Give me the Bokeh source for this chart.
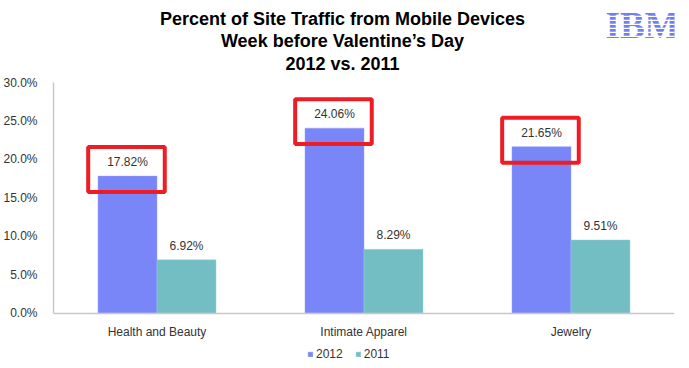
from bokeh.plotting import figure
from bokeh.models import (ColumnDataSource, FactorRange, Range1d, LabelSet, Label,
                          PrintfTickFormatter, Legend, LegendItem, BoxAnnotation)
from bokeh.transform import dodge
from bokeh.core.properties import value
from bokeh.embed import file_html
from bokeh.resources import INLINE

categories = ["Health and Beauty", "Intimate Apparel", "Jewelry"]
series_names = ["2012", "2011"]
values_2012 = [17.82, 24.06, 21.65]
values_2011 = [6.92, 8.29, 9.51]
y_ticks = [0, 5, 10, 15, 20, 25, 30]
title_lines = ["Percent of Site Traffic from Mobile Devices",
               "Week before Valentine\u2019s Day",
               "2012 vs. 2011"]

C2012 = "#7886F7"
C2011 = "#72BEC3"
RED = "#EE1C25"
FONT = "Liberation Sans"

src = ColumnDataSource(dict(
    cat=categories,
    v2012=values_2012,
    v2011=values_2011,
    l2012=["%.2f%%" % v for v in values_2012],
    l2011=["%.2f%%" % v for v in values_2011],
    box_y=[v + 0.85 for v in values_2012],
))

W, H = 678, 360
p = figure(x_range=FactorRange(*categories, range_padding=0), y_range=Range1d(-6.18, 40.68),
           width=W, height=H, output_backend="svg", toolbar_location=None,
           min_border_left=43, min_border_right=4, min_border_top=0, min_border_bottom=0)
p.outline_line_color = None
p.grid.grid_line_color = None
p.background_fill_color = "white"

bw = 0.285
r1 = p.vbar(x=dodge("cat", -bw / 2, range=p.x_range), top="v2012", width=bw, source=src,
            fill_color=C2012, line_color="#9aa3f8", line_width=0.5)
r2 = p.vbar(x=dodge("cat", bw / 2, range=p.x_range), top="v2011", width=bw, source=src,
            fill_color=C2011, line_color="#9fd3d6", line_width=0.5)

for col, off in (("l2012", -bw / 2), ("l2011", bw / 2)):
    ys = "v2012" if col == "l2012" else "v2011"
    p.add_layout(LabelSet(x=dodge("cat", off, range=p.x_range), y=ys, text=col, source=src,
                          text_align="center", text_baseline="bottom", y_offset=7,
                          text_font=value(FONT), text_font_size="12px", text_color="#333333"))

p.rect(x=dodge("cat", -bw / 2 - 0.005, range=p.x_range), y="box_y", width=0.37, height=5.85,
       source=src, fill_alpha=0, line_color=RED, line_width=4)

p.xaxis.fixed_location = 0
p.yaxis.ticker = y_ticks
p.yaxis.bounds = (0, 30)
p.yaxis.formatter = PrintfTickFormatter(format="%.1f%%")
for ax in (p.xaxis, p.yaxis):
    ax.axis_line_color = "#c8c8c8"
    ax.axis_line_width = 1.5
    ax.major_tick_line_color = None
    ax.minor_tick_line_color = None
    ax.major_label_text_font = FONT
    ax.major_label_text_font_size = "12px"
    ax.major_label_text_color = "#333333"
p.yaxis.major_label_standoff = 10
p.xaxis.major_label_standoff = 6

legend = Legend(items=[LegendItem(label=series_names[0], renderers=[r1]),
                       LegendItem(label=series_names[1], renderers=[r2])],
                orientation="horizontal", location=(254, -1),
                label_text_font=FONT, label_text_font_size="12px", label_text_color="#333333",
                glyph_width=6, glyph_height=6, label_standoff=3, spacing=12,
                border_line_color=None, background_fill_alpha=0, padding=0, margin=0)
p.add_layout(legend, "center")

# title lines (screen units, relative to the frame)
for i, t in enumerate(title_lines):
    p.add_layout(Label(x=289, y=342 - 22.5 * i, x_units="screen", y_units="screen", text=t,
                       text_align="center", text_baseline="middle",
                       text_font="Liberation Sans", text_font_style="bold",
                       text_font_size="18px", text_color="#000000"))

p.add_layout(Label(x=589, y=335, x_units="screen", y_units="screen", text="IBM",
                   text_align="center", text_baseline="middle", text_font="Liberation Serif",
                   text_font_style="bold", text_font_size="37px", text_color="#6F7FF0"))
for k in range(6):
    yb = 323.5 + 4 * k
    p.add_layout(BoxAnnotation(left=548, right=632, bottom=yb, top=yb + 1.3,
                               left_units="screen", right_units="screen",
                               top_units="screen", bottom_units="screen",
                               fill_color="white", fill_alpha=1, line_alpha=0))

open("out.html", "w").write(file_html(p, INLINE))
